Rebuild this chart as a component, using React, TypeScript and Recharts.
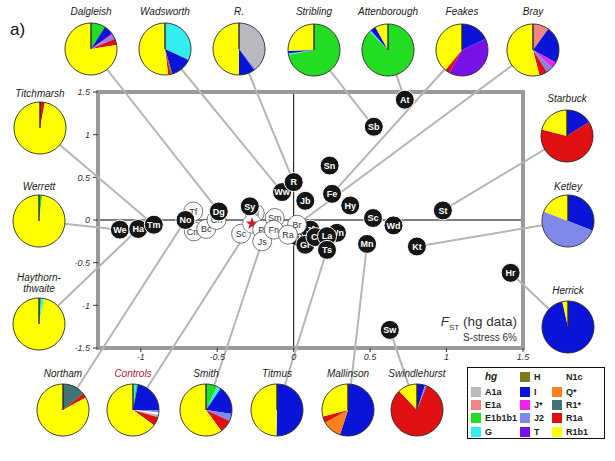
import React from 'react';
import { ScatterChart, Scatter, XAxis, YAxis, CartesianGrid, ReferenceArea, PieChart, Pie, Cell } from 'recharts';

const FONT = "'Liberation Sans', Arial, Helvetica, sans-serif";

// haplogroups and colours (legend order)
const hgNames = ['A1a', 'E1a', 'E1b1b1', 'G', 'H', 'I', 'J*', 'J2', 'T', 'N1c', 'Q*', 'R1*', 'R1a', 'R1b1'];
const hgColors = ['#b9b9bf', '#f08585', '#22dd22', '#33eeee', '#7d7a1c', '#0a14d8', '#ee22ee', '#8088ea', '#7a10e8', '#ffffff', '#ff7f1e', '#3f7575', '#e01010', '#ffff00'];

// MDS points (draw order)
const pointLabels = ['Tf', 'Cm', 'Bc', 'Ch', 'Sc', 'Ni', '*', 'Pi', 'Js', 'Sm', 'Fn',
  'We', 'Ha', 'Tm', 'No', 'Dg', 'Sy', 'Ww', 'R', 'Jb', 'Sn', 'Fe', 'Hy', 'Sc', 'Wd', 'St', 'Kt', 'Mn', 'Hr', 'Sw', 'At', 'Sb',
  'It', 'Jf', 'Gr', 'Cl', 'Wn', 'La', 'Ts', 'Br', 'Ra'];
const pointX = [-0.657, -0.653, -0.572, -0.505, -0.344, -0.255, -0.272, -0.206, -0.206, -0.124, -0.13,
  -1.137, -1.017, -0.915, -0.708, -0.49, -0.287, -0.076, 0.0, 0.076, 0.235, 0.251, 0.37, 0.519, 0.653, 0.976, 0.806, 0.48, 1.419, 0.629, 0.727, 0.524,
  0.03, 0.109, 0.076, 0.142, 0.283, 0.218, 0.218, 0.022, -0.037];
const pointY = [0.1, -0.133, -0.105, 0.0, -0.16, 0.08, -0.043, -0.113, -0.25, 0.023, -0.113,
  -0.113, -0.105, -0.055, 0.0, 0.1, 0.16, 0.327, 0.444, 0.225, 0.638, 0.307, 0.17, 0.023, -0.063, 0.112, -0.31, -0.28, -0.619, -1.288, 1.41, 1.093,
  -0.2, -0.113, -0.29, -0.2, -0.15, -0.19, -0.35, -0.055, -0.172];
const pointKind = ['w', 'w', 'w', 'w', 'w', 'w', 'star', 'w', 'w', 'w', 'w',
  'd', 'd', 'd', 'd', 'd', 'd', 'd', 'd', 'd', 'd', 'd', 'd', 'd', 'd', 'd', 'd', 'd', 'd', 'd', 'd', 'd',
  'd', 'd', 'd', 'd', 'd', 'd', 'd', 'w', 'w'];

const xTicks = [-1, -0.5, 0, 0.5, 1, 1.5];
const yTicks = [-1.5, -1, -0.5, 0, 0.5, 1, 1.5];

// pie compositions, clockwise from 12 o'clock
const dalgleish = [['E1b1b1', 9], ['I', 6], ['J*', 1], ['J2', 2.5], ['R1a', 4], ['R1b1', 77.5]];
const wadsworth = [['G', 32], ['I', 13.5], ['H', 1], ['R1a', 1.5], ['R1b1', 52]];
const rPop = [['A1a', 39], ['J2', 1], ['I', 10], ['R1b1', 50]];
const stribling = [['E1b1b1', 72], ['G', 0.8], ['I', 1.7], ['R1b1', 25.5]];
const attenborough = [['E1b1b1', 87.5], ['G', 1], ['I', 3.5], ['R1b1', 8]];
const feakes = [['I', 18], ['T', 40], ['R1a', 3], ['R1b1', 39]];
const bray = [['E1a', 10], ['I', 23], ['J*', 4], ['J2', 4], ['R1a', 5], ['R1b1', 54]];
const titchmarsh = [['R1a', 3], ['R1b1', 97]];
const werrett = [['E1b1b1', 2], ['R1b1', 98]];
const haythornthwaite = [['E1b1b1', 1.5], ['G', 1.5], ['R1b1', 97]];
const starbuck = [['I', 16], ['R1a', 63], ['R1b1', 21]];
const ketley = [['I', 31], ['J2', 50], ['R1b1', 19]];
const herrick = [['I', 96.5], ['R1b1', 3.5]];
const northam = [['R1*', 14], ['R1a', 3], ['R1b1', 83]];
const controls = [['G', 2], ['E1b1b1', 1], ['I', 22], ['J2', 1.5], ['N1c', 1.5], ['A1a', 1.5], ['R1a', 5.5], ['R1b1', 65]];
const smith = [['E1b1b1', 7], ['G', 2.5], ['I', 18], ['J2', 4.5], ['R1a', 8], ['R1b1', 60]];
const titmus = [['I', 50], ['J2', 0.5], ['R1b1', 49.5]];
const mallinson = [['I', 55], ['Q*', 12], ['R1a', 4], ['R1b1', 29]];
const swindlehurst = [['I', 5], ['J2', 1], ['R1a', 82], ['R1b1', 12]];

const popNames = ['Dalgleish', 'Wadsworth', 'R.', 'Stribling', 'Attenborough', 'Feakes', 'Bray',
  'Titchmarsh', 'Werrett', 'Haythorn-\nthwaite', 'Starbuck', 'Ketley', 'Herrick',
  'Northam', 'Controls', 'Smith', 'Titmus', 'Mallinson', 'Swindlehurst'];
const popData = [dalgleish, wadsworth, rPop, stribling, attenborough, feakes, bray,
  titchmarsh, werrett, haythornthwaite, starbuck, ketley, herrick,
  northam, controls, smith, titmus, mallinson, swindlehurst];
const popTargets = ['Dg', 'Ww', 'R', 'Sb', 'At', 'Fe', 'Br', 'Tm', 'We', 'Ha', 'St', 'Kt', 'Hr', 'No', '*', 'Js', 'Ts', 'Mn', 'Sw'];

// layout (pixel positions of the small pies and their captions)
const pieCenters = [[91, 49], [165, 49], [239, 49], [314, 50], [388, 50], [462, 50], [533, 50],
  [40, 128], [39, 221], [39, 324], [567, 136], [568, 221], [568, 327],
  [63, 410], [133, 410], [206, 410], [277, 410], [348, 410], [417, 410]];
const labelYs = [12, 12, 12, 12, 12, 12, 12, 94, 187, 284, 99, 187, 291, 374, 374, 374, 374, 374, 374];

const points = pointLabels.map((label, i) => ({ x: pointX[i], y: pointY[i], label, kind: pointKind[i] }));
const connectors = popTargets.map((t, i) => {
  const j = pointLabels.lastIndexOf(t);
  return { x: pointX[j], y: pointY[j], px: pieCenters[i][0], py: pieCenters[i][1] };
});

function starPath(cx: number, cy: number, R: number, r: number) {
  let d = '';
  for (let i = 0; i < 10; i++) {
    const a = (-90 + i * 36) * Math.PI / 180;
    const rad = i % 2 === 0 ? R : r;
    d += (i === 0 ? 'M' : 'L') + (cx + rad * Math.cos(a)).toFixed(2) + ',' + (cy + rad * Math.sin(a)).toFixed(2);
  }
  return d + 'Z';
}

function Dot(props: any) {
  const { cx, cy, payload } = props;
  if (cx == null || cy == null) return null;
  if (payload.kind === 'star') {
    return (
      <g>
        <circle cx={cx} cy={cy} r={9.5} fill="#fff" stroke="#777" strokeWidth={0.8} />
        <path d={starPath(cx, cy, 6.5, 2.7)} fill="#c8202a" />
      </g>
    );
  }
  const dark = payload.kind === 'd';
  return (
    <g>
      <circle cx={cx} cy={cy} r={9.5} fill={dark ? '#151515' : '#fff'} stroke={dark ? '#fff' : '#555'} strokeWidth={dark ? 1 : 0.8} />
      <text x={cx} y={cy} dy="0.36em" textAnchor="middle" fontSize={9} fontFamily={FONT}
        fontWeight={dark ? 'bold' : 'normal'} fill={dark ? '#fff' : '#333'}>{payload.label}</text>
    </g>
  );
}

function Connector(props: any) {
  const { cx, cy, payload } = props;
  if (cx == null || cy == null) return null;
  return <line x1={cx} y1={cy} x2={payload.px} y2={payload.py} stroke="#b5b5b5" strokeWidth={2} />;
}

function PopPie({ index }: { index: number }) {
  const [cx, cy] = pieCenters[index];
  const rows = popData[index].map(([hg, v]) => ({ hg, value: v, color: hgColors[hgNames.indexOf(hg as string)] }));
  const size = 60;
  const name = popNames[index];
  const lines = name.split('\n');
  return (
    <>
      <div style={{ position: 'absolute', left: cx - size / 2, top: cy - size / 2, width: size, height: size }}>
        <PieChart width={size} height={size} margin={{ top: 0, right: 0, bottom: 0, left: 0 }}>
          <Pie data={rows} dataKey="value" cx="50%" cy="50%" outerRadius={26} startAngle={90} endAngle={-270}
            stroke="none" isAnimationActive={false}>
            {rows.map((r, i) => <Cell key={i} fill={r.color} stroke="none" />)}
          </Pie>
          <Pie data={[{ value: 1 }]} dataKey="value" cx="50%" cy="50%" outerRadius={26} startAngle={90} endAngle={-270}
            fill="none" stroke="#2a2a2a" strokeWidth={0.9} isAnimationActive={false} />
        </PieChart>
      </div>
      <div style={{
        position: 'absolute', left: cx - 50, width: 100, top: labelYs[index] - 6 * lines.length, textAlign: 'center',
        fontFamily: FONT, fontSize: 10, fontStyle: 'italic', lineHeight: '11px',
        color: name === 'Controls' ? '#b0183a' : '#1a1a1a',
      }}>
        {lines.map((l, i) => <div key={i}>{l}</div>)}
      </div>
    </>
  );
}

const legendCols = [[null, 'A1a', 'E1a', 'E1b1b1', 'G'], ['H', 'I', 'J*', 'J2', 'T'], ['N1c', 'Q*', 'R1*', 'R1a', 'R1b1']];

function Legend() {
  const colX = [3, 52, 84];
  const rowY = [9, 24, 36.5, 50, 64];
  return (
    <div style={{ position: 'absolute', left: 467, top: 367, width: 136, height: 70, border: '1px solid #111', background: '#fff', fontFamily: FONT }}>
      <div style={{ position: 'absolute', left: 17, top: rowY[0] - 6, fontSize: 10, fontWeight: 'bold', fontStyle: 'italic', color: '#222' }}>hg</div>
      {legendCols.map((col, ci) => col.map((hg, ri) => hg == null ? null : (
        <React.Fragment key={hg}>
          <div style={{ position: 'absolute', left: colX[ci], top: rowY[ri] - 5, width: 10, height: 10, background: hgColors[hgNames.indexOf(hg)] }} />
          <div style={{ position: 'absolute', left: colX[ci] + 14, top: rowY[ri] - 6, fontSize: 9, lineHeight: '12px', fontWeight: 'bold', color: '#222' }}>{hg}</div>
        </React.Fragment>
      )))}
    </div>
  );
}

export default function App() {
  const tickStyle = { fontSize: 9, fontStyle: 'italic', fill: '#333', fontFamily: FONT };
  return (
    <div style={{ position: 'absolute', left: 0, top: 0, width: 615, height: 461, background: '#fff', overflow: 'hidden' }}>
      <ScatterChart width={615} height={461} margin={{ top: 92, right: 92, bottom: 83, left: 58 }}>
        <CartesianGrid horizontalValues={[0]} verticalValues={[0]} stroke="#000" strokeWidth={1} />
        <XAxis type="number" dataKey="x" domain={[-1.28, 1.5]} ticks={xTicks} height={30} tickSize={4} tickMargin={2}
          axisLine={false} tickLine={{ stroke: '#333' }} tick={tickStyle} tickFormatter={(v: number) => String(v)} />
        <YAxis type="number" dataKey="y" domain={[-1.5, 1.5]} ticks={yTicks} width={40} tickSize={5} tickMargin={3}
          axisLine={false} tickLine={{ stroke: '#333' }} tick={tickStyle} tickFormatter={(v: number) => String(v)} />
        <ReferenceArea x1={-1.28} x2={1.5} y1={-1.5} y2={1.5} fill="none" fillOpacity={0} stroke="#9a9a9a" strokeWidth={4} ifOverflow="visible" />
        <Scatter data={connectors} shape={Connector} isAnimationActive={false} />
        <Scatter data={points} shape={Dot} isAnimationActive={false} />
      </ScatterChart>

      {popNames.map((_, i) => <PopPie key={i} index={i} />)}

      <div style={{ position: 'absolute', left: 10, top: 20, fontFamily: FONT, fontSize: 17, color: '#111' }}>a)</div>

      <div style={{ position: 'absolute', right: 615 - 517, top: 314, fontFamily: FONT, fontSize: 13.5, color: '#333', whiteSpace: 'nowrap' }}>
        <span style={{ fontStyle: 'italic' }}>F</span><span style={{ fontSize: 8, verticalAlign: 'sub' }}>ST</span> (hg data)
      </div>
      <div style={{ position: 'absolute', right: 615 - 517, top: 332, fontFamily: FONT, fontSize: 10, color: '#333', whiteSpace: 'nowrap' }}>
        S-stress 6%
      </div>

      <Legend />
    </div>
  );
}
